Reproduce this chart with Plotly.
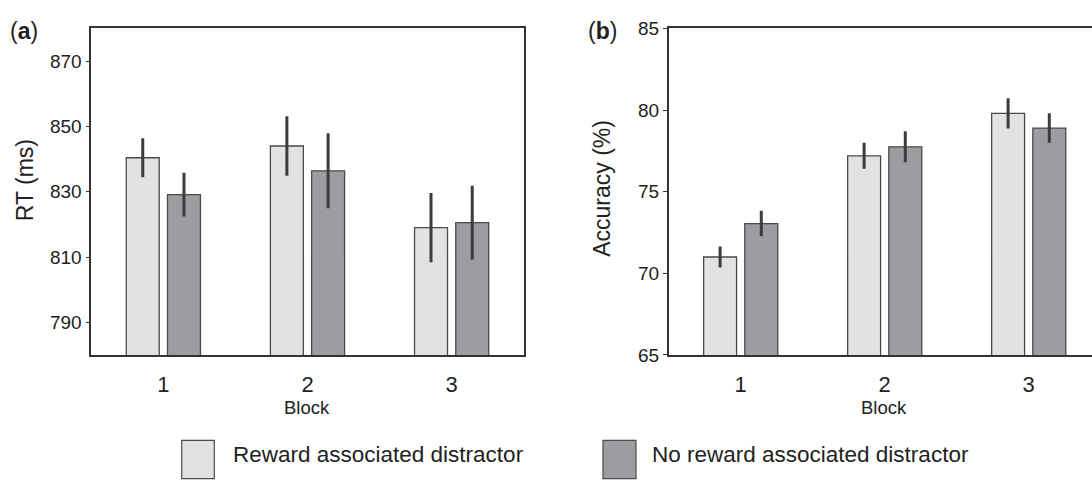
import plotly.graph_objects as go

# ---------------- data ----------------
blocks = ["1", "2", "3"]
block_pos = [1, 2, 3]

rt_reward = [840.4, 844.0, 819.0]
rt_reward_err = [6.0, 9.1, 10.6]
rt_noreward = [829.1, 836.4, 820.5]
rt_noreward_err = [6.7, 11.5, 11.3]

acc_reward = [71.0, 77.2, 79.8]
acc_reward_err = [0.65, 0.8, 0.93]
acc_noreward = [73.05, 77.75, 78.9]
acc_noreward_err = [0.78, 0.95, 0.9]

rt_ticks = [790, 810, 830, 850, 870]
acc_ticks = [65, 70, 75, 80, 85]

series_names = ["Reward associated distractor", "No reward associated distractor"]

# ---------------- styling ----------------
W, H = 1092, 481
FONT = "Liberation Sans, Arial, Helvetica, sans-serif"
TXT = "#222222"
LIGHT = "#e1e2e4"
DARK = "#9c9da1"
EDGE = "#4a4a4a"
ERR = "#3c3c3c"
AX = "#333333"


def px(x):
    return x / W


def py(y):
    return (H - y) / H


fig = go.Figure()


def add_bars(xaxis, yaxis, vals, errs, color, name):
    fig.add_trace(go.Bar(
        x=block_pos, y=vals, name=name, xaxis=xaxis, yaxis=yaxis,
        marker=dict(color=color, line=dict(color=EDGE, width=1.3)),
        error_y=dict(type="data", array=errs, visible=True, color=ERR,
                     thickness=3, width=0),
        showlegend=False,
        offsetgroup=name,
    ))


add_bars("x", "y", rt_reward, rt_reward_err, LIGHT, series_names[0])
add_bars("x", "y", rt_noreward, rt_noreward_err, DARK, series_names[1])
add_bars("x2", "y2", acc_reward, acc_reward_err, LIGHT, series_names[0])
add_bars("x2", "y2", acc_noreward, acc_noreward_err, DARK, series_names[1])

ydom = [py(360.7), py(19.3)]

xcommon = dict(
    tickmode="array", tickvals=block_pos, ticktext=blocks,
    ticks="", showline=True, linecolor=AX, linewidth=1.6,
    showgrid=False, zeroline=False,
    tickfont=dict(family=FONT, size=22, color=TXT),
    ticklabelstandoff=9,
)
ycommon = dict(
    showline=True, linecolor=AX, linewidth=1.6,
    ticks="outside", ticklen=4, tickcolor=AX, tickwidth=1.2,
    showgrid=False, zeroline=False,
    tickfont=dict(family=FONT, size=19, color=TXT),
)

fig.update_layout(
    width=W, height=H,
    margin=dict(l=0, r=0, t=0, b=0),
    paper_bgcolor="white", plot_bgcolor="white",
    barmode="group", bargap=0.428, bargroupgap=0.2,
    showlegend=False,
    xaxis=dict(domain=[px(91.3), px(523.7)], range=[0.5, 3.5],
               anchor="y", mirror=True, **xcommon),
    yaxis=dict(domain=ydom, range=[780, 880], tickvals=rt_ticks,
               anchor="x", mirror=True, **ycommon),
    xaxis2=dict(domain=[px(668.7), 1.0],
                range=[0.5, 0.5 + (W - 668.7) / 144.0],
                anchor="y2", mirror=True, **xcommon),
    yaxis2=dict(domain=ydom, range=[65, 85], tickvals=acc_ticks,
                anchor="x2", mirror=False, **ycommon),
)

ann = []
# panel labels
ann.append(dict(text="(<b>a</b>)", x=px(8), y=py(22), xref="paper", yref="paper",
                xanchor="left", yanchor="middle", showarrow=False,
                font=dict(family=FONT, size=23, color=TXT)))
ann.append(dict(text="(<b>b</b>)", x=px(586), y=py(22), xref="paper", yref="paper",
                xanchor="left", yanchor="middle", showarrow=False,
                font=dict(family=FONT, size=23, color=TXT)))
# axis titles
ann.append(dict(text="RT (ms)", x=px(25), y=py(178), xref="paper", yref="paper",
                xanchor="center", yanchor="middle", textangle=-90, showarrow=False,
                font=dict(family=FONT, size=23, color=TXT)))
ann.append(dict(text="Accuracy (%)", x=px(602), y=py(187), xref="paper", yref="paper",
                xanchor="center", yanchor="middle", textangle=-90, showarrow=False,
                font=dict(family=FONT, size=23, color=TXT)))
ann.append(dict(text="Block", x=px(307), y=py(416), xref="paper", yref="paper",
                xanchor="center", yanchor="middle", showarrow=False,
                font=dict(family=FONT, size=18.5, color=TXT)))
ann.append(dict(text="Block", x=px(884), y=py(416), xref="paper", yref="paper",
                xanchor="center", yanchor="middle", showarrow=False,
                font=dict(family=FONT, size=18.5, color=TXT)))
# legend texts
ann.append(dict(text=series_names[0], x=px(231), y=py(465), xref="paper", yref="paper",
                xanchor="left", yanchor="middle", showarrow=False,
                font=dict(family=FONT, size=22.5, color=TXT)))
ann.append(dict(text=series_names[1], x=px(650), y=py(465), xref="paper", yref="paper",
                xanchor="left", yanchor="middle", showarrow=False,
                font=dict(family=FONT, size=22.5, color=TXT)))

shapes = [
    dict(type="rect", xref="paper", yref="paper", x0=px(181.7), x1=px(214.3),
         y0=py(450), y1=py(490), fillcolor=LIGHT, line=dict(color=EDGE, width=1.2)),
    dict(type="rect", xref="paper", yref="paper", x0=px(603), x1=px(636),
         y0=py(450), y1=py(490), fillcolor=DARK, line=dict(color=EDGE, width=1.2)),
]

fig.update_layout(annotations=ann, shapes=shapes)

fig.write_html(
    "out.html",
    config={"displayModeBar": False},
    post_script="document.body.style.margin='0';document.body.style.overflow='hidden';",
)
